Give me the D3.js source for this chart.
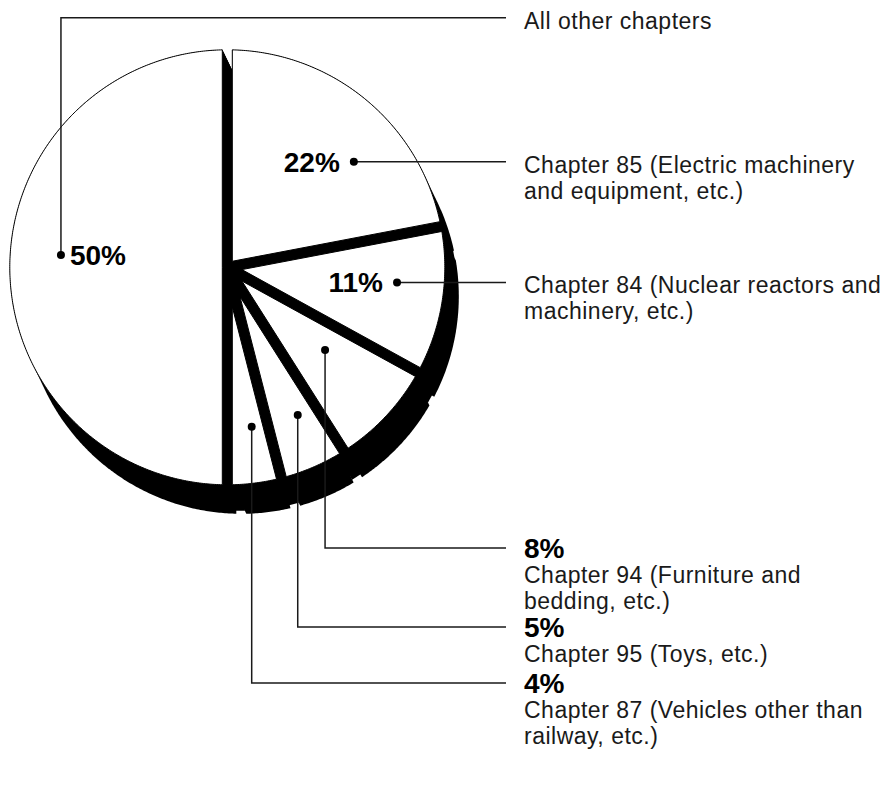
<!DOCTYPE html>
<html>
<head>
<meta charset="utf-8">
<script src="https://cdn.jsdelivr.net/npm/d3@7"></script>
<style>
  html, body { margin: 0; padding: 0; background: #fff; }
  svg { display: block; }
</style>
</head>
<body>
<svg id="chart" width="888" height="800"></svg>
<script>
// Import shares by HS chapter (%), listed clockwise from 12 o'clock
const chapters = ["Chapter 85", "Chapter 84", "Chapter 94", "Chapter 95", "Chapter 87", "All other chapters"];
const shares = [22, 11, 8, 5, 4, 50];
const labelLines = [
  ["Chapter 85 (Electric machinery", "and equipment, etc.)"],
  ["Chapter 84 (Nuclear reactors and", "machinery, etc.)"],
  ["Chapter 94 (Furniture and", "bedding, etc.)"],
  ["Chapter 95 (Toys, etc.)"],
  ["Chapter 87 (Vehicles other than", "railway, etc.)"],
  ["All other chapters"]
];

// ---- layout ----
const cx = 227.3, cy = 267.3, R = 217.5;   // pie centre and radius
const gap = 10;                             // width of the black separators
const depth = [14, 29];                     // extrusion of the black shadow
const lineEndX = 506, textX = 524;
const FONT = "'Liberation Sans', Arial, Helvetica, sans-serif";

// where each leader starts inside its slice (degrees clockwise from top, radius)
// and how it is routed to the label column
const leaders = [
  { a: 50.2,  r: 164.7, route: "h" },
  { a: 95.1,  r: 170.4, route: "h" },
  { a: 130.2, r: 128.0, route: "down", rowY: 548 },
  { a: 154.5, r: 163.6, route: "down", rowY: 627 },
  { a: 171.3, r: 161.3, route: "down", rowY: 683 },
  { a: 274.2, r: 166.8, route: "up",   rowY: 17.7 }
];

const svg = d3.select("#chart");
const polar = (a, rho) => [cx + rho * Math.sin(a), cy - rho * Math.cos(a)];
const rad = d3.scaleLinear().domain([0, 360]).range([0, 2 * Math.PI]);

const slices = d3.pie().sort(null).value(d => d)(shares);
const delta = Math.asin((gap / 2) / R);

// white wedge, pulled back from both neighbours by half the separator width
function wedge(d) {
  const half = (d.endAngle - d.startAngle) / 2;
  const mid = (d.startAngle + d.endAngle) / 2;
  const pts = [polar(mid, (gap / 2) / Math.sin(half))];
  const a0 = d.startAngle + delta, a1 = d.endAngle - delta;
  const n = Math.max(2, Math.ceil((a1 - a0) / (Math.PI / 360)));
  for (let i = 0; i <= n; i++) pts.push(polar(a0 + (a1 - a0) * i / n, R));
  return pts;
}

function clipHalf(poly, f) {
  const out = [];
  for (let i = 0; i < poly.length; i++) {
    const P = poly[i], Q = poly[(i + 1) % poly.length];
    const fp = f(P), fq = f(Q);
    if (fp >= 0) out.push(P);
    if ((fp >= 0) !== (fq >= 0)) {
      const t = fp / (fp - fq);
      out.push([P[0] + t * (Q[0] - P[0]), P[1] + t * (Q[1] - P[1])]);
    }
  }
  return out;
}

// black separator between two neighbouring slices at boundary angle b.
// Where the extrusion points back into the pie, the rim end of the slot
// is cut along the extrusion edge of the preceding slice.
function separator(b) {
  const ux = Math.sin(b), uy = -Math.cos(b);
  const nx = Math.cos(b), ny = Math.sin(b);
  const aOut = polar(b - delta, R), bOut = polar(b + delta, R);
  const aIn = [cx - nx * gap / 2, cy - ny * gap / 2];
  const bIn = [cx + nx * gap / 2, cy + ny * gap / 2];
  const quad = [aIn, aOut, bOut, bIn];
  if (ux * depth[0] + uy * depth[1] >= 0) return quad;
  const side = p => depth[0] * (p[1] - aOut[1]) - depth[1] * (p[0] - aOut[0]);
  const s = Math.sign(side([cx, cy]));
  return clipHalf(quad, p => s * side(p));
}

// a convex outline dragged along (a fraction of) the extrusion vector
const sweep = (p, k = 1) =>
  d3.polygonHull(p.concat(p.map(q => [q[0] + k * depth[0], q[1] + k * depth[1]])));

const line = d3.line();
const closed = pts => line(pts) + "Z";

// shadow: every wedge swept along the extrusion, the slots between them
// swept slightly less so a small notch stays open at the outer edge
const gShadow = svg.append("g").attr("fill", "#000");
gShadow.selectAll("path.wedge-shadow")
  .data(slices)
  .join("path")
  .attr("class", "wedge-shadow")
  .attr("d", d => closed(sweep(wedge(d))));
gShadow.selectAll("path.sep-shadow")
  .data(slices)
  .join("path")
  .attr("class", "sep-shadow")
  .attr("d", d => closed(sweep(separator(d.endAngle), 0.9)));

// separators
svg.append("g").attr("fill", "#000")
  .selectAll("path")
  .data(slices)
  .join("path")
  .attr("d", d => closed(separator(d.endAngle)));

// white slices
svg.append("g")
  .selectAll("path")
  .data(slices)
  .join("path")
  .attr("d", d => closed(wedge(d)))
  .attr("fill", "#fff")
  .attr("stroke", "#000")
  .attr("stroke-width", 1)
  .attr("stroke-linejoin", "round");

// leaders, dots and labels
const gLab = svg.append("g");
slices.forEach((d, i) => {
  const L = leaders[i];
  const [x0, y0] = polar(rad(L.a), L.r);
  let pts, rowY;
  if (L.route === "h") { rowY = y0; pts = [[x0, y0], [lineEndX, y0]]; }
  else { rowY = L.rowY; pts = [[x0, y0], [x0, rowY], [lineEndX, rowY]]; }

  gLab.append("path")
    .attr("d", line(pts))
    .attr("fill", "none")
    .attr("stroke", "#1a1a1a")
    .attr("stroke-width", 1.5);
  gLab.append("circle")
    .attr("cx", x0).attr("cy", y0).attr("r", 4)
    .attr("fill", "#000");

  const pct = shares[i] + "%";
  const lines = labelLines[i];
  const bold = sel => sel.attr("font-family", FONT).attr("font-weight", "bold")
    .attr("font-size", 28).attr("fill", "#000");
  const reg = sel => sel.attr("font-family", FONT).attr("font-size", 23)
    .attr("letter-spacing", 0.5).attr("fill", "#1a1a1a");

  if (L.route === "down") {
    gLab.append("text").text(pct).attr("x", textX).attr("y", rowY + 9.5).call(bold);
    lines.forEach((t, k) => {
      gLab.append("text").text(t).attr("x", textX).attr("y", rowY + 35 + 25.5 * k).call(reg);
    });
  } else {
    if (L.route === "h") {
      gLab.append("text").text(pct).attr("x", x0 - 14).attr("y", y0 + 10)
        .attr("text-anchor", "end").call(bold);
    } else {
      gLab.append("text").text(pct).attr("x", x0 + 9).attr("y", y0 + 10).call(bold);
    }
    lines.forEach((t, k) => {
      gLab.append("text").text(t).attr("x", textX).attr("y", rowY + 11 + 26 * k).call(reg);
    });
  }
});
</script>
</body>
</html>
